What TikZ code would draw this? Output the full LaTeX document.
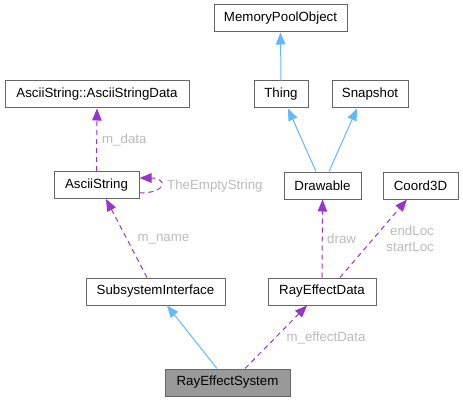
\documentclass[tikz,border=0pt]{standalone}
\usepackage{fontspec}
\setmainfont{Liberation Sans}
\usetikzlibrary{arrows.meta,positioning}
\definecolor{inherit}{HTML}{63B8FF}
\definecolor{usage}{HTML}{9A32CD}
\definecolor{boxline}{HTML}{666666}
\definecolor{labelgrey}{HTML}{BBBBBB}
\definecolor{current}{HTML}{999999}
\tikzset{
  classbox/.style={draw=boxline, fill=white, line width=1pt, minimum height=27pt,
    inner sep=0pt, font=\fontsize{13.3}{16}\selectfont},
  thisbox/.style={classbox, fill=current},
  inharr/.style={-{Triangle[length=12pt,width=9.5pt]}, line width=1pt, draw=inherit},
  usearr/.style={-{Triangle[length=12pt,width=9.5pt]}, line width=1pt, draw=usage,
    dash pattern=on 5pt off 4pt},
  memlabel/.style={font=\fontsize{13.3}{16}\selectfont, text=labelgrey, inner sep=0pt}
}
\begin{document}
\begin{tikzpicture}[x=1pt,y=-1pt]
        \useasboundingbox (0,0) rectangle (463,401);
        \node[classbox, minimum width=133pt] (mpo) at (280.5,18.5) {MemoryPoolObject};
        \node[classbox, minimum width=54pt] (thing) at (281,94.5) {Thing};
        \node[classbox, minimum width=76pt] (snap) at (370,94.5) {Snapshot};
        \node[classbox, minimum width=77pt] (drw) at (322.5,185.5) {Drawable};
        \node[classbox, minimum width=75pt] (crd) at (420.5,185.5) {Coord3D};
        \node[classbox, minimum width=184pt] (asd) at (97,94.5) {AsciiString::AsciiStringData};
        \node[classbox, minimum width=85pt] (asc) at (96.5,185) {AsciiString};
        \node[classbox, minimum width=139pt] (ssi) at (155.5,291.5) {SubsystemInterface};
        \node[classbox, minimum width=108pt] (red) at (322,291.5) {RayEffectData};
        \node[thisbox, minimum width=125pt] (res) at (227.5,382.5) {RayEffectSystem};
        \draw[inharr] (thing.north) -- (mpo.south);
        \draw[inharr] ([xshift=-6.5pt]drw.north) -- ([xshift=7pt]thing.south);
        \draw[inharr] ([xshift=6.5pt]drw.north) -- ([xshift=-13pt]snap.south);
        \draw[inharr] ([xshift=-10.5pt]res.north) -- ([xshift=11.5pt]ssi.south);
        \draw[usearr] (asc.north) -- (asd.south);
        \draw[usearr] ([yshift=-8pt]asc.east) .. controls +(28pt,0pt) and +(28pt,0pt) .. ([yshift=7pt]asc.east);
        \draw[usearr] ([xshift=-8.5pt]ssi.north) -- ([xshift=9.5pt]asc.south);
        \draw[usearr] (red.north) -- (drw.south);
        \draw[usearr] ([xshift=18pt]red.north) -- ([xshift=-13.5pt]crd.south);
        \draw[usearr] ([xshift=17.5pt]res.north) -- ([xshift=-15pt]red.south);
        \node[memlabel, anchor=west] (ldata) at (102,140) {m\_data};
        \node[memlabel, anchor=west] (lempty) at (167,186) {TheEmptyString};
        \node[memlabel] (lname) at (163.5,239) {m\_name};
        \node[memlabel, anchor=west] (ldraw) at (327,239) {draw};
        \node[memlabel, anchor=east, align=right] (lloc) at (434,239) {endLoc\\startLoc};
        \node[memlabel] (leff) at (326,338) {m\_effectData};
      \end{tikzpicture}
\end{document}
